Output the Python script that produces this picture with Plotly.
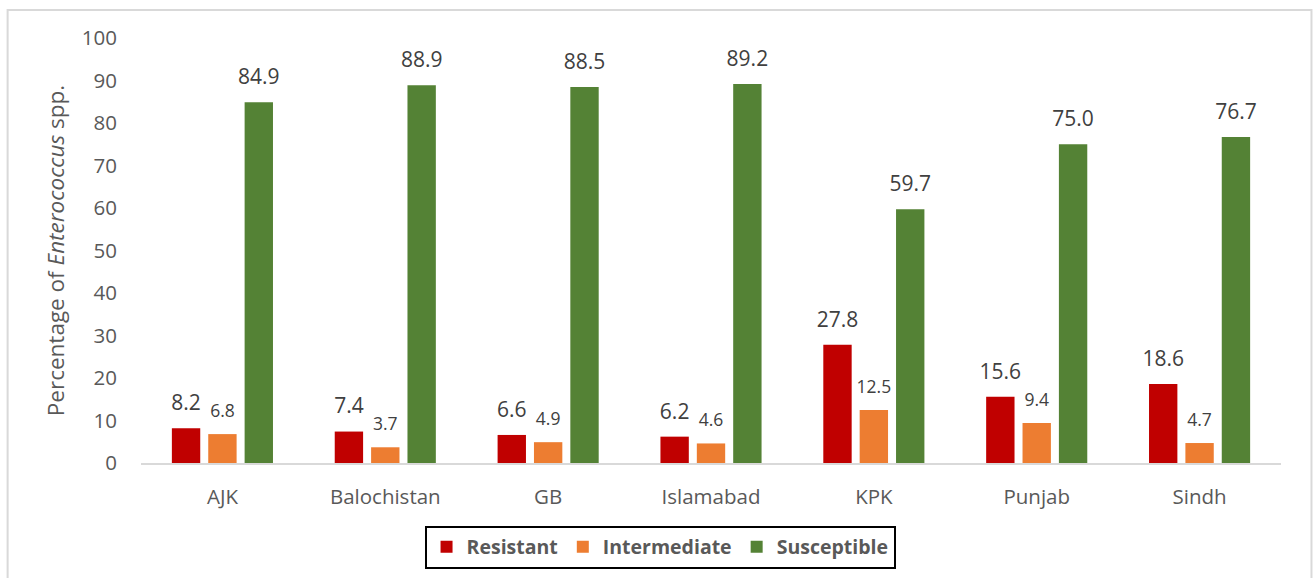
import plotly.graph_objects as go

regions = ["AJK", "Balochistan", "GB", "Islamabad", "KPK", "Punjab", "Sindh"]
resistant = [8.2, 7.4, 6.6, 6.2, 27.8, 15.6, 18.6]
intermediate = [6.8, 3.7, 4.9, 4.6, 12.5, 9.4, 4.7]
susceptible = [84.9, 88.9, 88.5, 89.2, 59.7, 75.0, 76.7]
y_ticks = [0, 10, 20, 30, 40, 50, 60, 70, 80, 90, 100]

FONT = "Open Sans"
W, H = 1316, 578
L, R, T, B = 140.5, 34.5, 38, 115

fig = go.Figure()
series = [
    ("Resistant", resistant, "#C00000", 21),
    ("Intermediate", intermediate, "#ED7D31", 17.5),
    ("Susceptible", susceptible, "#548235", 21),
]
for name, vals, color, fs in series:
    fig.add_trace(go.Bar(
        name=name, x=regions, y=vals, offsetgroup=name,
        marker=dict(color=color, line=dict(width=0)),
        hoverinfo="skip",
    ))
for name, vals, color, fs in series:
    fig.add_trace(go.Scatter(
        name=name, x=regions, y=vals, offsetgroup=name, mode="markers+text",
        marker=dict(size=19, opacity=0, color=color),
        text=[f"{v:.1f}" for v in vals], textposition="top center",
        textfont=dict(family=FONT, size=fs, color="#404040"),
        cliponaxis=False, showlegend=False, hoverinfo="skip",
    ))

pw = W - L - R
ph = H - T - B
fig.add_shape(type="rect", xref="paper", yref="paper",
              x0=(7 - L) / pw, x1=(1312 - L) / pw,
              y0=(H - 590 - B) / ph, y1=(H - 10 - B) / ph,
              line=dict(color="#d9d9d9", width=2), layer="below")

fig.update_layout(
    width=W, height=H,
    margin=dict(l=L, r=R, t=T, b=B, autoexpand=False),
    paper_bgcolor="white", plot_bgcolor="white",
    barmode="group", bargap=0.33, bargroupgap=0.22,
    scattermode="group", scattergap=0.33,
    font=dict(family=FONT, color="#595959"),
    showlegend=True,
    legend=dict(orientation="h", x=(660 - L) / pw, xanchor="center",
                y=(H - 547 - B) / ph, yanchor="middle",
                bordercolor="black", borderwidth=2, bgcolor="white",
                font=dict(family=FONT, size=19.5, color="#595959", weight="bold"),
                itemwidth=30, traceorder="normal"),
    xaxis=dict(showline=True, linecolor="#d9d9d9", linewidth=2, ticks="",
               ticklabelstandoff=14,
               tickfont=dict(family=FONT, size=20.5, color="#595959"), showgrid=False),
    yaxis=dict(range=[0, 100], tickvals=y_ticks, showgrid=False, zeroline=False,
               showline=False, ticks="", ticklabelstandoff=23,
               tickfont=dict(family=FONT, size=20.5, color="#595959"),
               title=dict(text="Percentage of <i>Enterococcus</i> spp.", standoff=10,
                          font=dict(family=FONT, size=22.5, color="#595959"))),
)

fig.write_html("out.html")
